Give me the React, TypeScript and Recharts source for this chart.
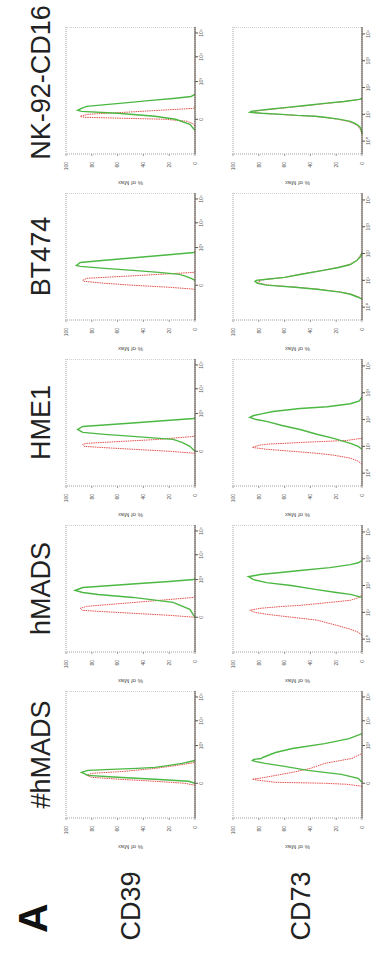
import React from "react";
import { LineChart, Line, XAxis, YAxis, ReferenceArea } from "recharts";

type Pt = [number, number];

const columns = ["#hMADS", "hMADS", "HME1", "BT474", "NK-92-CD16"];
const markers = ["CD39", "CD73"];
const panelLetter = "A";

const pctTicks = [0, 20, 40, 60, 80, 100];
const biexDomain: [number, number] = [0, 5.12];
const biexTicks = [1.4, 2.92, 3.92, 4.88];
const biexLabels = ["0", "10³", "10⁴", "10⁵"];
const logDomain: [number, number] = [-0.48, 4.26];
const logTicks = [0, 1, 2, 3, 4];
const logLabels = ["10⁰", "10¹", "10²", "10³", "10⁴"];
const yAxisTitle = "% of Max";

// #hMADS
const sharpCD39Iso: Pt[] = [[1.32,0],[1.4,8],[1.48,31],[1.56,58],[1.64,80],[1.72,84],[1.8,80],[1.88,55],[2.0,31],[2.12,14],[2.24,0]];
const sharpCD39Stain: Pt[] = [[1.4,0],[1.48,5],[1.56,31],[1.64,60],[1.72,83],[1.84,88],[1.92,83],[1.96,65],[2.0,45],[2.04,31],[2.12,20],[2.2,10],[2.32,0]];
const sharpCD73Iso: Pt[] = [[1.28,0],[1.36,12],[1.4,29],[1.44,67],[1.52,80],[1.56,85],[1.64,75],[1.84,54],[2.0,40],[2.2,29],[2.4,8],[2.6,0]];
const sharpCD73Stain: Pt[] = [[1.44,0],[1.6,3],[1.76,16],[1.92,42],[2.08,60],[2.2,75],[2.28,83],[2.32,85],[2.36,84],[2.4,78],[2.44,77],[2.52,73],[2.64,67],[2.8,54],[3.0,29],[3.2,10],[3.4,0]];
// hMADS
const hmadsCD39Iso: Pt[] = [[1.4,0],[1.48,20],[1.56,48],[1.64,75],[1.68,87],[1.76,89],[1.84,84],[1.96,56],[2.08,28],[2.2,1],[2.24,0]];
const hmadsCD39Stain: Pt[] = [[1.4,0],[1.72,4],[2.0,17],[2.2,48],[2.32,75],[2.4,87],[2.48,93],[2.6,87],[2.68,65],[2.76,43],[2.84,20],[2.92,1],[2.96,0]];
const hmadsCD73Iso: Pt[] = [[0.15,0],[0.26,3],[0.37,9],[0.52,20],[0.71,35],[0.82,55],[0.93,74],[1.0,83],[1.08,87],[1.15,79],[1.22,62],[1.26,48],[1.37,25],[1.45,9],[1.56,2],[1.67,0]];
const hmadsCD73Stain: Pt[] = [[1.56,0],[1.67,9],[1.74,20],[1.85,35],[2.0,55],[2.11,74],[2.22,84],[2.33,88],[2.41,79],[2.48,65],[2.56,48],[2.67,25],[2.78,9],[2.85,3],[2.93,0]];
// HME1
const hme1CD39Iso: Pt[] = [[1.32,0],[1.4,20],[1.48,48],[1.56,75],[1.6,86],[1.68,87],[1.72,84],[1.8,56],[1.88,28],[2.0,1],[2.04,0]];
const hme1CD39Stain: Pt[] = [[1.4,0],[1.6,4],[1.76,10],[1.88,17],[2.0,48],[2.08,70],[2.16,87],[2.28,91],[2.4,87],[2.48,65],[2.56,43],[2.64,22],[2.72,1],[2.76,0]];
const hme1CD73Iso: Pt[] = [[0.33,0],[0.45,3],[0.56,9],[0.67,22],[0.74,35],[0.82,55],[0.89,74],[0.96,85],[1.04,80],[1.08,74],[1.15,45],[1.22,12],[1.3,0]];
const hme1CD73Stain: Pt[] = [[0.89,0],[1.0,3],[1.11,9],[1.3,22],[1.45,35],[1.63,48],[1.78,62],[1.93,74],[2.0,82],[2.08,87],[2.15,84],[2.22,77],[2.3,69],[2.41,48],[2.48,27],[2.59,9],[2.7,2],[2.85,0]];
// BT474
const btCD39Iso: Pt[] = [[1.24,0],[1.32,20],[1.4,48],[1.48,70],[1.56,86],[1.6,87],[1.68,84],[1.76,56],[1.84,28],[1.92,1],[1.96,0]];
const btCD39Stain: Pt[] = [[1.6,0],[1.68,3],[1.76,7],[1.84,12],[1.92,28],[2.0,48],[2.08,70],[2.16,89],[2.2,92],[2.24,91],[2.32,89],[2.4,72],[2.48,54],[2.56,36],[2.64,18],[2.72,1],[2.76,0]];
const btCD73Iso: Pt[] = [[0.3,0],[0.37,2],[0.48,8],[0.56,16],[0.67,34],[0.74,50],[0.82,72],[0.89,80],[0.93,81],[0.96,79],[1.0,80],[1.04,73],[1.11,60],[1.22,49],[1.37,31],[1.48,19],[1.59,10],[1.74,4],[1.89,2],[2.04,0]];
const btCD73Stain: Pt[] = [[0.3,0],[0.37,3],[0.48,9],[0.56,17],[0.67,35],[0.74,52],[0.82,74],[0.89,81],[0.96,83],[1.0,82],[1.04,74],[1.11,60],[1.22,48],[1.37,30],[1.48,18],[1.59,9],[1.74,4],[1.89,1],[2.04,0]];
// NK-92-CD16
const nkCD39Iso: Pt[] = [[1.12,0],[1.2,1],[1.32,6],[1.4,23],[1.44,55],[1.48,86],[1.52,89],[1.56,86],[1.6,83],[1.68,55],[1.76,28],[1.84,1],[1.92,0]];
const nkCD39Stain: Pt[] = [[0.96,0],[1.2,4],[1.4,15],[1.52,31],[1.64,60],[1.72,88],[1.76,91],[1.84,88],[1.92,84],[2.0,67],[2.08,50],[2.16,34],[2.24,17],[2.32,3],[2.4,0]];
const nkCD73Iso: Pt[] = [[0.26,0],[0.41,1],[0.52,2.5],[0.59,4],[0.67,7],[0.74,11],[0.82,19],[0.89,30],[0.93,38],[0.96,52],[1.0,64],[1.04,79],[1.07,86],[1.11,84],[1.15,78],[1.19,70],[1.26,56],[1.33,42],[1.41,27],[1.48,13],[1.56,2],[1.59,0]];
const nkCD73Stain: Pt[] = [[0.26,0],[0.41,0.5],[0.52,1.5],[0.59,3],[0.67,6],[0.74,9],[0.82,18],[0.89,29],[0.93,36],[0.96,50],[1.0,62],[1.04,78],[1.08,87],[1.11,86],[1.15,80],[1.19,72],[1.26,58],[1.33,44],[1.41,29],[1.48,14],[1.56,2],[1.59,0]];

const isoSeries: Pt[][][] = [
  [sharpCD39Iso, hmadsCD39Iso, hme1CD39Iso, btCD39Iso, nkCD39Iso],
  [sharpCD73Iso, hmadsCD73Iso, hme1CD73Iso, btCD73Iso, nkCD73Iso],
];
const stainSeries: Pt[][][] = [
  [sharpCD39Stain, hmadsCD39Stain, hme1CD39Stain, btCD39Stain, nkCD39Stain],
  [sharpCD73Stain, hmadsCD73Stain, hme1CD73Stain, btCD73Stain, nkCD73Stain],
];
// axis type per panel: true = biexponential (with "0"), false = log decades
const biexAxis: boolean[][] = [
  [true, true, true, true, true],
  [true, false, false, false, false],
];

const FIG_W = 956;
const FIG_H = 375;
const BOX_W = 127;
const BOX_H = 129;
const COL_X0 = 138;
const COL_STEP = 166;
const ROW_Y = [66, 233];
const ML = 40;
const MT = 10;
const GREEN = "#4cb843";
const RED = "#e4504e";
const FONT = '"Liberation Sans", Arial, sans-serif';

const toRows = (pts: Pt[]) => pts.map(([x, y]) => ({ x, y }));

function Panel({ iso, stain, biex }: { iso: Pt[]; stain: Pt[]; biex: boolean }) {
  const domain = biex ? biexDomain : logDomain;
  const ticks = biex ? biexTicks : logTicks;
  const labels = biex ? biexLabels : logLabels;
  return (
    <LineChart
      width={ML + BOX_W}
      height={MT + BOX_H + 30}
      margin={{ top: MT, right: 0, bottom: 0, left: 10 }}
    >
      <XAxis
        dataKey="x"
        type="number"
        domain={domain}
        ticks={ticks}
        allowDataOverflow
        tickFormatter={(v: number) => labels[ticks.indexOf(v)] ?? ""}
        height={30}
        tickSize={3}
        tickMargin={1}
        axisLine={{ stroke: "#5a4a40", strokeWidth: 1 }}
        tickLine={{ stroke: "#555" }}
        tick={{ fontSize: 5, fill: "#555", fontFamily: FONT }}
      />
      <YAxis
        type="number"
        domain={[0, 100]}
        ticks={pctTicks}
        width={30}
        axisLine={false}
        tickSize={2}
        tickMargin={6}
        tickLine={{ stroke: "#999" }}
        tick={{ fontSize: 5, fill: "#555", fontFamily: FONT }}
        label={{
          value: yAxisTitle,
          angle: -90,
          position: "insideLeft",
          offset: 1,
          style: { textAnchor: "middle", fontSize: 6, fill: "#555", fontFamily: FONT },
        }}
      />
      <ReferenceArea
        x1={domain[0]}
        x2={domain[1]}
        y1={0}
        y2={100}
        fill="none"
        fillOpacity={0}
        stroke="#a0a0a0"
        strokeDasharray="1 1"
        strokeWidth={1}
      />
      <Line
        data={toRows(iso)}
        dataKey="y"
        type="linear"
        stroke={RED}
        strokeWidth={1}
        strokeDasharray="1.5 0.8"
        dot={false}
        isAnimationActive={false}
      />
      <Line
        data={toRows(stain)}
        dataKey="y"
        type="linear"
        stroke={GREEN}
        strokeWidth={1.4}
        dot={false}
        isAnimationActive={false}
      />
    </LineChart>
  );
}

export default function App() {
  return (
    <div style={{ position: "absolute", left: 0, top: 0, width: 375, height: 956, overflow: "hidden", background: "#fff" }}>
      <div
        style={{
          position: "absolute",
          left: 0,
          top: 0,
          width: FIG_W,
          height: FIG_H,
          transformOrigin: "0 0",
          transform: `translateY(${FIG_W}px) rotate(-90deg)`,
          fontFamily: FONT,
        }}
      >
        <svg width={FIG_W} height={FIG_H} style={{ position: "absolute", left: 0, top: 0 }}>
          <text x={23} y={47} fontSize={41} fontWeight="bold" fill="#111" fontFamily={FONT}>
            {panelLetter}
          </text>
          {markers.map((m, r) => (
            <text key={m} x={50} y={r === 0 ? 140 : 310} fontSize={27} textAnchor="middle" fill="#222" fontFamily={FONT}>
              {m}
            </text>
          ))}
          {columns.map((c, j) => (
            <text
              key={c}
              x={COL_X0 + COL_STEP * j + BOX_W / 2 + (j === 4 ? 8 : 0)}
              y={50}
              fontSize={27}
              textAnchor="middle"
              fill="#222"
              fontFamily={FONT}
            >
              {c}
            </text>
          ))}
        </svg>
        {markers.map((m, r) =>
          columns.map((c, j) => (
            <div
              key={m + c}
              style={{ position: "absolute", left: COL_X0 + COL_STEP * j - ML, top: ROW_Y[r] - MT }}
            >
              <Panel iso={isoSeries[r][j]} stain={stainSeries[r][j]} biex={biexAxis[r][j]} />
            </div>
          ))
        )}
      </div>
    </div>
  );
}
